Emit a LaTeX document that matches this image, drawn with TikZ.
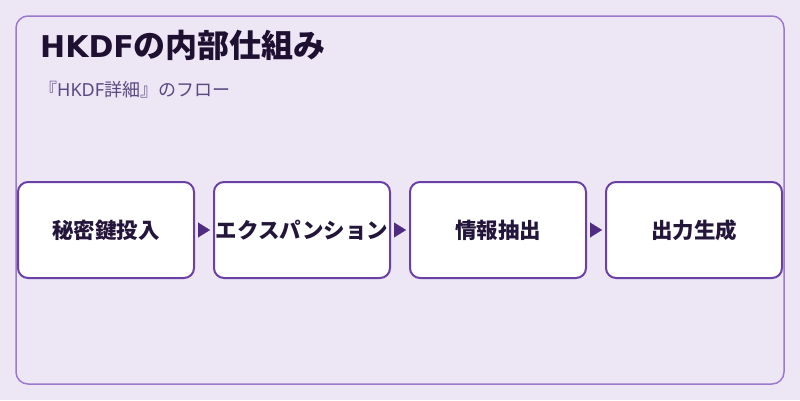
\documentclass[tikz,border=0pt]{standalone}
\usepackage{fontspec}
\setmainfont{Noto Sans CJK JP}
\newfontfamily\cjk{Noto Sans CJK JP}
\newfontfamily\lat{Noto Sans}
\newfontfamily\dejab{DejaVu Sans}
\usetikzlibrary{arrows.meta}
\definecolor{bgc}{HTML}{EDE6F5}
\definecolor{panelc}{HTML}{9B7ACD}
\definecolor{boxc}{HTML}{6A40A6}
\definecolor{arrc}{HTML}{4F2C82}
\definecolor{titlec}{HTML}{1E1030}
\definecolor{subc}{HTML}{5A4880}
\definecolor{textc}{HTML}{24163A}
\tikzset{
  stepbox/.style={draw=boxc, line width=2pt, fill=white, rounded corners=10pt,
    minimum width=176pt, minimum height=96pt, inner sep=0pt,
    font=\cjk\bfseries\fontsize{21.5pt}{24pt}\selectfont, text=textc},
  flow/.style={draw=arrc, line width=0.2pt, -{Triangle[length=12pt,width=15pt]}, shorten <=3pt, shorten >=3pt, fill=arrc}
}
\begin{document}
\begin{tikzpicture}[x=1pt,y=-1pt]
\fill[bgc] (0,0) rectangle (800,400);
\useasboundingbox (0,0) rectangle (800,400);
\draw[panelc, line width=1.5pt, rounded corners=12pt] (16,16) rectangle (784,384);
\node[anchor=base west, font=\bfseries, text=titlec, inner sep=0pt] (title) at (40,57) {{\dejab\fontsize{30pt}{34pt}\selectfont HKDF}{\cjk\fontsize{32pt}{34pt}\selectfont の内部仕組み}};
\node[anchor=base west, font=\fontsize{18pt}{20pt}\selectfont, text=subc, inner sep=0pt] (sub) at (39,96) {{\cjk 『}{\lat HKDF}{\cjk 詳細』のフロー}};
\node[stepbox] (s1) at (106,230) {秘密鍵投入};
\node[stepbox] (s2) at (302,230) {エクスパンション};
\node[stepbox] (s3) at (498,230) {情報抽出};
\node[stepbox] (s4) at (694,230) {出力生成};
\draw[flow] (s1) -- (s2);
\draw[flow] (s2) -- (s3);
\draw[flow] (s3) -- (s4);
\end{tikzpicture}
\end{document}
